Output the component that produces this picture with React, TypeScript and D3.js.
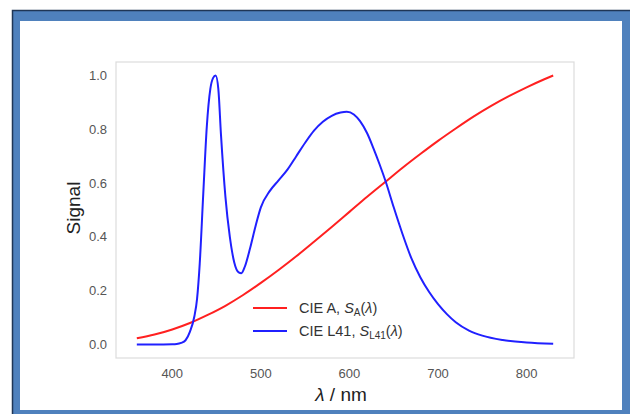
import React from 'react';
import * as d3 from 'd3';

// CIE A relative spectrum, normalised to 1 at 830 nm
const wlA = [360, 380, 400, 420, 440, 460, 480, 500, 520, 540, 560, 580, 600, 620, 640, 660, 680, 700, 720, 740, 760, 780, 800, 820, 830];
const sigA = [0.023, 0.037, 0.056, 0.080, 0.110, 0.144, 0.184, 0.229, 0.277, 0.328, 0.382, 0.437, 0.493, 0.549, 0.603, 0.657, 0.708, 0.757, 0.803, 0.847, 0.887, 0.923, 0.956, 0.986, 1.0];

// CIE L41 LED spectrum
const wlL41 = [360, 380, 400, 405, 410, 415, 420, 425, 428, 431, 435, 439, 443, 446, 449, 452, 455, 460, 465, 470, 475, 478, 482, 488, 494, 500, 510, 520, 530, 540, 550, 560, 570, 580, 590, 597, 605, 612, 620, 627, 634, 641, 650, 660, 670, 680, 690, 700, 710, 720, 735, 750, 773, 800, 830];
const sigL41 = [0.0, 0.0, 0.001, 0.002, 0.006, 0.016, 0.048, 0.105, 0.17, 0.30, 0.56, 0.81, 0.95, 0.99, 1.0, 0.95, 0.78, 0.55, 0.40, 0.305, 0.268, 0.265, 0.29, 0.36, 0.44, 0.51, 0.57, 0.61, 0.65, 0.70, 0.75, 0.795, 0.828, 0.85, 0.862, 0.865, 0.855, 0.83, 0.785, 0.73, 0.67, 0.605, 0.51, 0.41, 0.32, 0.25, 0.195, 0.15, 0.113, 0.083, 0.052, 0.033, 0.017, 0.008, 0.003];

const xTicks = [400, 500, 600, 700, 800];
const yTicks = [0.0, 0.2, 0.4, 0.6, 0.8, 1.0];

const W = 630;
const H = 414;
const plot = { left: 116, top: 62, right: 574, bottom: 358 };
const font = '"Liberation Sans", Arial, Helvetica, sans-serif';

export default function App() {
  const x = d3.scaleLinear().domain([336.5, 853.5]).range([plot.left, plot.right]);
  const y = d3.scaleLinear().domain([-0.05, 1.05]).range([plot.bottom, plot.top]);

  const line = d3.line<[number, number]>()
    .x(d => x(d[0]))
    .y(d => y(d[1]))
    .curve(d3.curveMonotoneX);

  const pathA = line(wlA.map((w, i) => [w, sigA[i]] as [number, number])) || '';
  const pathL = line(wlL41.map((w, i) => [w, sigL41[i]] as [number, number])) || '';

  const legX = 253;
  const legY = 308;

  return (
    <svg width={W} height={H} style={{ position: 'absolute', left: 0, top: 0, display: 'block' }} fontFamily={font}>
      {/* slide frame */}
      <rect x={0} y={0} width={W} height={H} fill="#fff" />
      <rect x={12.5} y={10.5} width={W} height={H + 10} fill="#4f81bd" stroke="#1f3656" strokeWidth={1.5} />
      <rect x={20} y={21} width={602} height={389} fill="#fff" />

      {/* axes frame */}
      <rect x={plot.left} y={plot.top} width={plot.right - plot.left} height={plot.bottom - plot.top}
        fill="none" stroke="#dcdcdc" strokeWidth={1.2} />

      {yTicks.map(t => (
        <text key={'y' + t} x={107} y={y(t)} dy="0.35em" textAnchor="end" fontSize={13} fill="#555">
          {d3.format('.1f')(t)}
        </text>
      ))}
      {xTicks.map(t => (
        <text key={'x' + t} x={x(t)} y={378} textAnchor="middle" fontSize={13} fill="#555">
          {t}
        </text>
      ))}

      <path d={pathA} fill="none" stroke="#ff2020" strokeWidth={2} />
      <path d={pathL} fill="none" stroke="#2020ff" strokeWidth={2} />

      {/* axis labels */}
      <text transform={`translate(80,208) rotate(-90)`} textAnchor="middle" fontSize={19} fill="#222">Signal</text>
      <text x={341} y={401} textAnchor="middle" fontSize={19} fill="#222">
        <tspan fontStyle="italic">λ</tspan> / nm
      </text>

      {/* legend */}
      <line x1={legX} x2={legX + 34} y1={legY} y2={legY} stroke="#ff2020" strokeWidth={2} />
      <line x1={legX} x2={legX + 34} y1={legY + 23} y2={legY + 23} stroke="#2020ff" strokeWidth={2} />
      <text x={299} y={legY} dy="0.35em" fontSize={14.5} fill="#333">
        CIE A, <tspan fontStyle="italic">S</tspan><tspan fontSize={10} dy={3}>A</tspan><tspan dy={-3}>(</tspan><tspan fontStyle="italic">λ</tspan>)
      </text>
      <text x={299} y={legY + 23} dy="0.35em" fontSize={14.5} fill="#333">
        CIE L41, <tspan fontStyle="italic">S</tspan><tspan fontSize={10} dy={3}>L41</tspan><tspan dy={-3}>(</tspan><tspan fontStyle="italic">λ</tspan>)
      </text>
    </svg>
  );
}
